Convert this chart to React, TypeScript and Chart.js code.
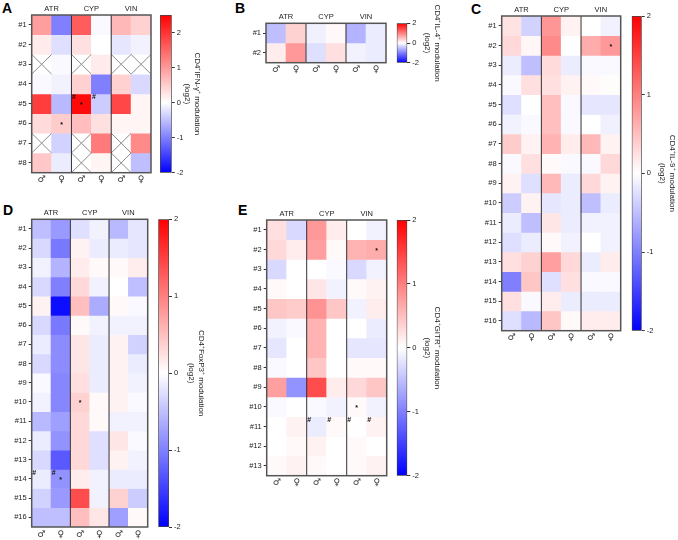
import React, { useEffect, useRef } from 'react';
import { Chart, registerables } from 'chart.js';

Chart.register(...registerables);

const FONT = '"Liberation Sans", Arial, Helvetica, sans-serif';
const SYM_FONT = '"DejaVu Sans", "Liberation Sans", sans-serif';

// ---------- shared labels ----------
const SEX_LABELS = ['♂', '♀', '♂', '♀', '♂', '♀'];
const GROUPS = ['ATR', 'CYP', 'VIN'];
const CB_TICKS = [-2, -1, 0, 1, 2];

// ---------- panel A : CD4+IFN-γ+ ----------
const rowsA = ['#1', '#2', '#3', '#4', '#5', '#6', '#7', '#8'];
const valuesA: (number | null)[][] = [
  [0.95, -1.0, 1.6, -0.05, 0.7, 0.45],
  [0.2, -0.25, 0.3, 0.0, -0.2, -0.1],
  [null, -0.05, null, 0.2, null, null],
  [-0.05, -0.1, 0.45, -1.0, 0.45, -0.3],
  [1.9, -0.55, 2.4, -0.4, 1.8, 0.1],
  [0.35, 0.5, 0.65, 0.3, 0.1, 0.1],
  [null, -0.35, null, 1.3, null, 1.15],
  [0.55, -0.15, null, 0.1, null, -0.5],
];
const markersA = [
  { row: 4, col: 2, sym: '#' },
  { row: 4, col: 2, sym: '*' },
  { row: 4, col: 3, sym: '#' },
  { row: 5, col: 1, sym: '*' },
];

// ---------- panel B : CD4+IL-4+ ----------
const rowsB = ['#1', '#2'];
const valuesB: (number | null)[][] = [
  [-0.5, 0.35, -0.12, 0.05, -0.6, -0.15],
  [0.15, 0.8, -0.25, 0.25, -0.1, -0.15],
];
const markersB: { row: number; col: number; sym: string }[] = [];

// ---------- panel C : CD4+IL-9+ ----------
const rowsC = ['#1', '#2', '#3', '#4', '#5', '#6', '#7', '#8', '#9', '#10', '#11', '#12', '#13', '#14', '#15', '#16'];
const valuesC: (number | null)[][] = [
  [0.22, -0.35, 0.82, 0.1, 0.0, -0.1],
  [0.3, 0.06, 0.92, 0.0, 0.65, 0.8],
  [-0.15, -0.5, 0.28, -0.15, -0.05, -0.05],
  [-0.05, 0.25, 0.25, 0.1, 0.05, 0.02],
  [-0.25, 0.0, 0.5, -0.05, -0.2, -0.2],
  [-0.1, -0.05, 0.5, -0.05, 0.0, -0.12],
  [0.4, 0.1, 0.6, 0.15, 0.55, 0.1],
  [-0.05, 0.25, 0.05, -0.05, -0.05, 0.3],
  [0.1, -0.25, 0.55, -0.15, 0.3, 0.1],
  [-0.4, 0.1, -0.2, -0.15, -0.5, -0.15],
  [-0.15, -0.5, 0.2, -0.15, -0.1, -0.1],
  [-0.25, -0.15, 0.05, -0.1, 0.0, -0.1],
  [0.25, 0.35, 0.75, 0.3, -0.15, 0.15],
  [-1.0, 0.45, -0.25, 0.25, -0.05, -0.05],
  [0.25, -0.05, 0.15, -0.15, -0.15, -0.15],
  [-0.25, -0.55, 0.45, 0.05, 0.15, 0.15],
];
const markersC = [{ row: 1, col: 5, sym: '*' }];

// ---------- panel D : CD4+FoxP3+ ----------
const rowsD = ['#1', '#2', '#3', '#4', '#5', '#6', '#7', '#8', '#9', '#10', '#11', '#12', '#13', '#14', '#15', '#16'];
const valuesD: (number | null)[][] = [
  [-0.5, -0.8, -0.25, -0.1, -0.55, -0.2],
  [-0.3, -1.05, 0.1, -0.15, -0.15, -0.2],
  [-0.1, -0.6, 0.15, 0.05, 0.05, 0.15],
  [-0.3, -1.0, 0.3, -0.1, 0.0, -0.5],
  [0.1, -1.9, 0.5, -0.65, 0.05, -0.05],
  [-0.3, -1.05, 0.05, -0.1, -0.1, -0.1],
  [-0.15, -0.9, 0.2, -0.15, 0.1, -0.35],
  [-0.3, -0.9, 0.2, -0.15, 0.1, -0.15],
  [-0.05, -0.95, 0.25, -0.15, 0.1, -0.1],
  [-0.1, -0.95, 0.35, 0.05, 0.1, -0.05],
  [-0.55, -0.75, 0.3, 0.05, -0.1, -0.1],
  [-0.15, -0.85, 0.3, -0.25, 0.2, -0.05],
  [-0.3, -1.3, 0.3, -0.25, 0.1, -0.1],
  [-0.15, -0.85, 0.15, -0.1, -0.15, -0.15],
  [-0.35, -0.8, 1.4, -0.1, 0.35, -0.4],
  [-0.5, -0.5, 0.5, 0.2, -0.75, 0.05],
];
const markersD = [
  { row: 9, col: 2, sym: '*' },
  { row: 13, col: 0, sym: '#' },
  { row: 13, col: 1, sym: '#' },
  { row: 13, col: 1, sym: '*' },
];

// ---------- panel E : CD4+GITR+ ----------
const rowsE = ['#1', '#2', '#3', '#4', '#5', '#6', '#7', '#8', '#9', '#10', '#11', '#12', '#13'];
const valuesE: (number | null)[][] = [
  [0.25, -0.3, 0.8, 0.15, 0.0, -0.1],
  [0.3, 0.15, 0.75, 0.05, 0.6, 0.65],
  [-0.3, 0.0, 0.0, -0.05, -0.3, -0.1],
  [0.05, 0.0, 0.2, -0.1, 0.05, 0.1],
  [0.45, 0.4, 0.85, 0.45, -0.1, 0.15],
  [-0.1, -0.05, 0.6, 0.0, 0.0, -0.15],
  [-0.2, 0.0, 0.6, 0.0, -0.2, -0.2],
  [-0.05, 0.0, 0.45, 0.0, 0.05, 0.05],
  [0.75, -0.85, 1.4, 0.15, 0.3, 0.45],
  [-0.05, 0.0, -0.05, -0.1, 0.05, -0.1],
  [0.0, 0.1, -0.15, 0.05, 0.0, 0.1],
  [0.0, 0.05, 0.1, 0.0, 0.05, 0.0],
  [0.05, 0.1, 0.05, 0.0, 0.05, 0.1],
];
const markersE = [
  { row: 1, col: 5, sym: '*' },
  { row: 9, col: 4, sym: '*' },
  { row: 10, col: 2, sym: '#' },
  { row: 10, col: 3, sym: '#' },
  { row: 10, col: 4, sym: '#' },
  { row: 10, col: 5, sym: '#' },
];

function heatColor(v: number | null, lo: number, hi: number): string {
  if (v === null || v === undefined) return '#ffffff';
  if (v >= 0) {
    const t = Math.min(v / hi, 1);
    const c = Math.round(255 * (1 - t));
    return `rgb(255,${c},${c})`;
  }
  const t = Math.min(v / lo, 1);
  const c = Math.round(255 * (1 - t));
  return `rgb(${c},${c},255)`;
}

type Box = { L: number; T: number; R: number; B: number };
type Marker = { row: number; col: number; sym: string };

function Heatmap(props: { box: Box; rows: string[]; values: (number | null)[][]; markers: Marker[]; hi: number }) {
  const { box, rows, values, markers, hi } = props;
  const ref = useRef<HTMLCanvasElement>(null);
  const { L, T, R, B } = box;
  const left = Math.max(0, Math.floor(L - 34));
  const top = Math.max(0, Math.floor(T - 18));
  const right = Math.ceil(R + 4);
  const bottom = Math.min(540, Math.ceil(B + 16));
  const w = right - left;
  const h = bottom - top;

  useEffect(() => {
    const overlay = {
      id: 'overlay',
      afterDatasetsDraw(chart: any) {
        const ctx = chart.ctx;
        const xs = chart.scales.x;
        const ys = chart.scales.y;
        const half = (xs.getPixelForValue(1) - xs.getPixelForValue(0)) / 2;
        const cell = (r: number, c: number) => ({
          x0: xs.getPixelForValue(c) - half,
          x1: xs.getPixelForValue(c) + half,
          y0: ys.getPixelForValue(r),
          y1: ys.getPixelForValue(r + 1),
        });
        const ca = chart.chartArea;
        ctx.save();
        // missing cells
        ctx.strokeStyle = '#8c8c8c';
        ctx.lineWidth = 1;
        values.forEach((row, r) =>
          row.forEach((v, c) => {
            if (v === null) {
              const k = cell(r, c);
              ctx.beginPath();
              ctx.moveTo(k.x0, k.y0);
              ctx.lineTo(k.x1, k.y1);
              ctx.moveTo(k.x1, k.y0);
              ctx.lineTo(k.x0, k.y1);
              ctx.stroke();
            }
          })
        );
        // group separators
        ctx.strokeStyle = '#333';
        ctx.lineWidth = 1;
        [2, 4].forEach((c) => {
          const x = xs.getPixelForValue(c) - half;
          ctx.beginPath();
          ctx.moveTo(x, ca.top);
          ctx.lineTo(x, ca.bottom);
          ctx.stroke();
        });
        // frame
        ctx.strokeStyle = '#555';
        ctx.lineWidth = 1.5;
        ctx.strokeRect(ca.left, ca.top, ca.right - ca.left, ca.bottom - ca.top);
        // markers
        ctx.fillStyle = '#111';
        ctx.font = `bold 7px ${FONT}`;
        ctx.textAlign = 'center';
        ctx.textBaseline = 'middle';
        markers.forEach((m) => {
          const k = cell(m.row, m.col);
          if (m.sym === '*') {
            ctx.fillText('*', (k.x0 + k.x1) / 2, (k.y0 + k.y1) / 2 + 1.5);
          } else {
            ctx.fillText('#', k.x0 + 2.6, k.y0 + 3.6);
          }
        });
        ctx.restore();
      },
    };

    const chart = new Chart(ref.current as HTMLCanvasElement, {
      type: 'bar',
      data: {
        labels: SEX_LABELS,
        datasets: values.map((row, r) => ({
          label: rows[r],
          data: row.map(() => 1),
          backgroundColor: row.map((v) => heatColor(v, -2, hi)),
          borderWidth: 0,
          barPercentage: 1,
          categoryPercentage: 1,
        })),
      },
      options: {
        responsive: false,
        animation: false,
        events: [],
        layout: { padding: { left: 0, top: 0, right: right - R, bottom: 0 } },
        plugins: { legend: { display: false }, tooltip: { enabled: false } },
        scales: {
          x: {
            stacked: true,
            position: 'bottom',
            grid: { display: false, drawTicks: false },
            border: { display: false },
            ticks: { font: { family: SYM_FONT, size: 9, lineHeight: 1.2 }, color: '#333', padding: 2, maxRotation: 0, autoSkip: false },
            afterFit: (s: any) => {
              s.height = bottom - B;
            },
          },
          x2: {
            type: 'category',
            labels: GROUPS,
            position: 'top',
            offset: true,
            grid: { display: false, drawTicks: false },
            border: { display: false },
            ticks: { font: { family: FONT, size: 7.5, lineHeight: 1.2 }, color: '#222', padding: 1.8 },
            afterFit: (s: any) => {
              s.height = T - top;
            },
          },
          y: {
            stacked: true,
            reverse: true,
            min: 0,
            max: rows.length,
            position: 'left',
            grid: { drawOnChartArea: false, tickLength: 3, color: '#333' },
            border: { display: false },
            afterBuildTicks: (s: any) => {
              s.ticks = rows.map((_, i) => ({ value: i + 0.5 }));
            },
            ticks: {
              callback: (v: any) => rows[Math.floor(Number(v))],
              font: { family: FONT, size: 7.5 },
              color: '#222',
              padding: 2,
            },
            afterFit: (s: any) => {
              s.width = L - left;
            },
          },
        },
      } as any,
      plugins: [overlay],
    });
    return () => chart.destroy();
  }, []);

  return (
    <canvas
      ref={ref}
      width={w}
      height={h}
      style={{ position: 'absolute', left, top, width: w, height: h }}
    />
  );
}

function ColorBar(props: { box: Box; lo: number; hi: number; title: string; titleOffset: number }) {
  const { box, lo, hi, title, titleOffset } = props;
  const ref = useRef<HTMLCanvasElement>(null);
  const { L, T, R, B } = box;
  const left = Math.floor(L);
  const right = Math.ceil(R + 45);
  const top = Math.max(0, Math.floor(T - 50));
  const bottom = Math.min(540, Math.ceil(B + 50));
  const w = right - left;
  const h = bottom - top;
  const lineH = 10;

  useEffect(() => {
    const chart = new Chart(ref.current as HTMLCanvasElement, {
      type: 'bar',
      data: {
        labels: [''],
        datasets: [
          {
            data: [[lo, hi]] as any,
            backgroundColor: (c: any) => {
              const ch = c.chart;
              const ys = ch.scales && ch.scales.y;
              if (!ys || !ch.chartArea) return '#ffffff';
              const y0 = ys.getPixelForValue(lo);
              const y1 = ys.getPixelForValue(hi);
              if (!isFinite(y0) || !isFinite(y1)) return '#ffffff';
              const g = ch.ctx.createLinearGradient(0, y0, 0, y1);
              g.addColorStop(0, '#0000ff');
              g.addColorStop(-lo / (hi - lo), '#ffffff');
              g.addColorStop(1, '#ff0000');
              return g;
            },
            borderColor: '#444',
            borderWidth: 1,
            borderSkipped: false,
            barPercentage: 1,
            categoryPercentage: 1,
          },
        ],
      },
      options: {
        responsive: false,
        animation: false,
        events: [],
        layout: { padding: { left: L - left, top: T - top, bottom: bottom - B, right: 0 } },
        plugins: { legend: { display: false }, tooltip: { enabled: false } },
        scales: {
          x: { display: false },
          y: {
            position: 'right',
            min: lo,
            max: hi,
            grid: { drawOnChartArea: false, tickLength: 3, color: '#333' },
            border: { display: false },
            afterBuildTicks: (s: any) => {
              s.ticks = CB_TICKS.map((v) => ({ value: v }));
            },
            ticks: { font: { family: FONT, size: 7.5 }, color: '#222', padding: 2 },
            title: {
              display: true,
              text: [title, '(log2)'],
              font: { family: FONT, size: 8, lineHeight: lineH / 8 },
              color: '#222',
              padding: { top: right - R - lineH / 2 - titleOffset, bottom: 0 },
            },
            afterFit: (s: any) => {
              s.width = right - R;
            },
          },
        },
      } as any,
    });
    return () => chart.destroy();
  }, []);

  return (
    <canvas
      ref={ref}
      width={w}
      height={h}
      style={{ position: 'absolute', left, top, width: w, height: h }}
    />
  );
}

const letterStyle = (left: number, top: number): React.CSSProperties => ({
  position: 'absolute',
  left,
  top,
  font: `bold 14px ${FONT}`,
  lineHeight: '14px',
  color: '#000',
});

export default function App() {
  return (
    <div style={{ position: 'absolute', left: 0, top: 0, width: 678, height: 540, background: '#fff', overflow: 'hidden' }}>
      <div style={letterStyle(2, 1)}>A</div>
      <div style={letterStyle(235, 1)}>B</div>
      <div style={letterStyle(471, 2)}>C</div>
      <div style={letterStyle(3, 203)}>D</div>
      <div style={letterStyle(238, 203)}>E</div>

      <Heatmap box={{ L: 31.7, T: 15, R: 151, B: 172.7 }} rows={rowsA} values={valuesA} markers={markersA} hi={2.5} />
      <ColorBar box={{ L: 160, T: 15, R: 171.7, B: 172.7 }} lo={-2} hi={2.5} title="CD4⁺IFN-γ⁺ modulation" titleOffset={25.5} />

      <Heatmap box={{ L: 266, T: 23.3, R: 386, B: 62.7 }} rows={rowsB} values={valuesB} markers={markersB} hi={2} />
      <ColorBar box={{ L: 396.7, T: 23.3, R: 407.3, B: 62.7 }} lo={-2} hi={2} title="CD4⁺IL-4⁺ modulation" titleOffset={30} />

      <Heatmap box={{ L: 501.7, T: 16, R: 620.7, B: 330.7 }} rows={rowsC} values={valuesC} markers={markersC} hi={2} />
      <ColorBar box={{ L: 631.7, T: 16, R: 641.7, B: 330.7 }} lo={-2} hi={2} title="CD4⁺IL-9⁺ modulation" titleOffset={31} />

      <Heatmap box={{ L: 31.7, T: 219.3, R: 147.7, B: 527 }} rows={rowsD} values={valuesD} markers={markersD} hi={2} />
      <ColorBar box={{ L: 158.3, T: 219.3, R: 169, B: 527 }} lo={-2} hi={2} title="CD4⁺FoxP3⁺ modulation" titleOffset={32.5} />

      <Heatmap box={{ L: 266.7, T: 220, R: 386.7, B: 475.7 }} rows={rowsE} values={valuesE} markers={markersE} hi={2} />
      <ColorBar box={{ L: 396.7, T: 220, R: 407.3, B: 475.7 }} lo={-2} hi={2} title="CD4⁺GITR⁺ modulation" titleOffset={29.5} />
    </div>
  );
}
